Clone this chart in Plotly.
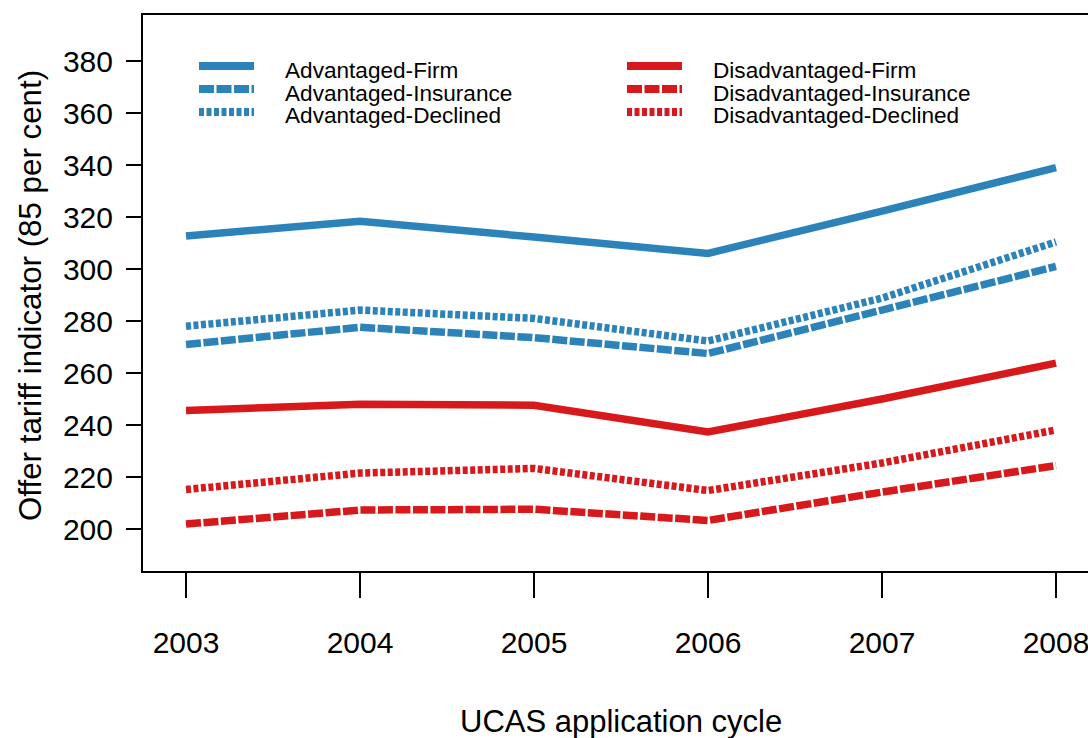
import plotly.graph_objects as go

years = [2003, 2004, 2005, 2006, 2007, 2008]
adv_firm = [312.7, 318.4, 312.3, 306.0, 322.3, 339.0]
adv_insurance = [271.0, 277.6, 273.6, 267.5, 284.2, 301.0]
adv_declined = [278.0, 284.2, 281.0, 272.3, 288.8, 310.4]
dis_firm = [245.6, 248.0, 247.6, 237.3, 250.0, 263.8]
dis_insurance = [201.9, 207.3, 207.6, 203.3, 214.2, 224.4]
dis_declined = [215.2, 221.5, 223.3, 214.8, 225.4, 238.1]

series_names = ["Advantaged-Firm", "Advantaged-Insurance", "Advantaged-Declined",
                "Disadvantaged-Firm", "Disadvantaged-Insurance", "Disadvantaged-Declined"]
series_values = [adv_firm, adv_insurance, adv_declined, dis_firm, dis_insurance, dis_declined]

BLUE = "#2b83ba"
RED = "#d7191c"
colors = [BLUE, BLUE, BLUE, RED, RED, RED]
DASH_SOLID = "solid"
DASH_INS = "15px,2.5px"
DASH_DEC = "5px,2.5px"
dashes = [DASH_SOLID, DASH_INS, DASH_DEC, DASH_SOLID, DASH_INS, DASH_DEC]

W, H = 1088, 738
L, R, T, B = 143, 0, 15, 167
PW = W - L - R
PH = H - T - B

def px_x(p):
    return (p - L) / PW

def px_y(p):
    return (H - B - p) / PH

FONT = "Liberation Sans, Arial, Helvetica, sans-serif"

fig = go.Figure()
for name, vals, c, d in zip(series_names, series_values, colors, dashes):
    fig.add_trace(go.Scatter(x=years, y=vals, mode="lines", name=name,
                             line=dict(color=c, width=7.5, dash=d),
                             showlegend=False, hoverinfo="skip"))

shapes = []
annotations = []
# manual legend
legend_cols = [(199, 254, 283), (627, 682, 711)]
row_line_y = [66, 89, 112]
row_text_y = [70, 93, 116]
for i, name in enumerate(series_names):
    col = legend_cols[i // 3]
    r = i % 3
    shapes.append(dict(type="line", xref="paper", yref="paper",
                       x0=px_x(col[0]), x1=px_x(col[1]),
                       y0=px_y(row_line_y[r]), y1=px_y(row_line_y[r]),
                       line=dict(color=colors[i], width=8, dash=dashes[i])))
    annotations.append(dict(xref="paper", yref="paper", x=px_x(col[2]), y=px_y(row_text_y[r]),
                            text=name, showarrow=False, xanchor="left", yanchor="middle",
                            font=dict(family=FONT, size=22.6, color="black")))

annotations.append(dict(xref="paper", yref="paper", x=px_x(621), y=px_y(722),
                        text="UCAS application cycle", showarrow=False,
                        xanchor="center", yanchor="middle",
                        font=dict(family=FONT, size=31, color="black")))
annotations.append(dict(xref="paper", yref="paper", x=px_x(30), y=px_y(296),
                        text="Offer tariff indicator (85 per cent)", showarrow=False,
                        textangle=-90, xanchor="center", yanchor="middle",
                        font=dict(family=FONT, size=31.3, color="black")))

fig.update_layout(
    width=W, height=H,
    margin=dict(l=L, r=R, t=T, b=B, pad=0),
    paper_bgcolor="white", plot_bgcolor="white",
    shapes=shapes, annotations=annotations,
    showlegend=False,
    font=dict(family=FONT, color="black"),
    xaxis=dict(range=[2003 - 43 / 174, 2003 + 902 / 174], tickvals=years,
               ticktext=[str(y) for y in years],
               showgrid=False, zeroline=False, showline=True, mirror=True,
               linecolor="black", linewidth=2, ticks="outside", ticklen=25,
               tickwidth=2, tickcolor="black", ticklabelstandoff=19,
               ticklabeloverflow="allow",
               tickfont=dict(family=FONT, size=30, color="black")),
    yaxis=dict(range=[200 - 42 / 2.6, 380 + 46 / 2.6], tickvals=list(range(200, 381, 20)),
               showgrid=False, zeroline=False, showline=True, mirror=False,
               linecolor="black", linewidth=2, ticks="outside", ticklen=15,
               tickwidth=2, tickcolor="black", ticklabelstandoff=7,
               tickfont=dict(family=FONT, size=30, color="black")),
)

fig.write_html("out.html", config={"displayModeBar": False},
               post_script="document.body.style.margin='0px';")
